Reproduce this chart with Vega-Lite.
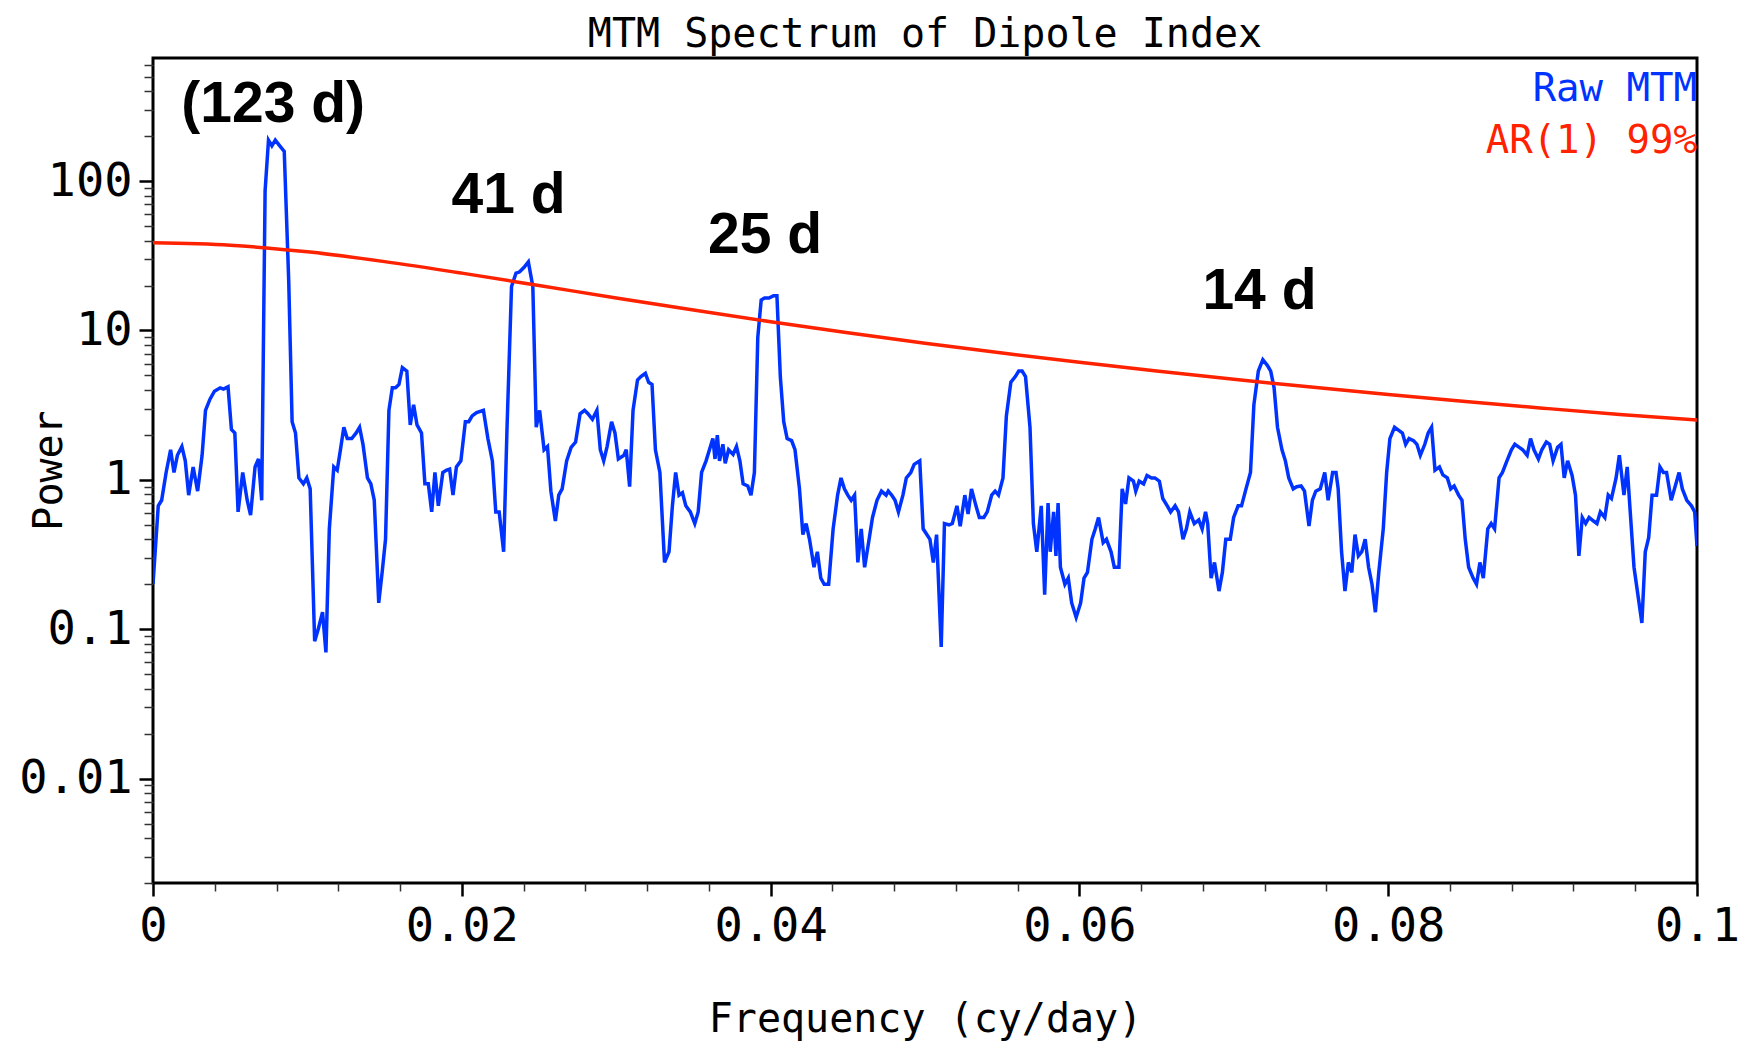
{
"$schema": "https://vega.github.io/schema/vega-lite/v6.json",
"width": 1544, "height": 825,
"autosize": {"type": "none"},
"padding": {"left": 153, "top": 58, "right": 67, "bottom": 160},
"background": "white",
"config": {"view": {"stroke": "black", "strokeWidth": 3}, "font": "DejaVu Sans Mono"},
"title": {"text": "MTM Spectrum of Dipole Index", "font": "DejaVu Sans Mono", "fontSize": 40, "fontWeight": "normal", "color": "black", "anchor": "middle", "baseline": "alphabetic", "offset": 13, "dy": 42},
"resolve": {"axis": {"x": "independent", "y": "independent"}},
"datasets": {
"ar1": [
{"f":0,"p":38.6},{"f":0.005,"p":37.2},{"f":0.01,"p":33.6},{"f":0.015,"p":28.9},{"f":0.02,"p":24.2},{"f":0.025,"p":20.0},{"f":0.03,"p":16.5},{"f":0.035,"p":13.7},{"f":0.04,"p":11.45},{"f":0.045,"p":9.65},{"f":0.05,"p":8.22},{"f":0.055,"p":7.06},{"f":0.06,"p":6.12},{"f":0.065,"p":5.35},{"f":0.07,"p":4.71},{"f":0.075,"p":4.18},{"f":0.08,"p":3.73},{"f":0.085,"p":3.35},{"f":0.09,"p":3.02},{"f":0.095,"p":2.74},{"f":0.1,"p":2.52}
],
"mtm": [
{"f":0,"p":0.2},{"f":0.00034,"p":0.67},{"f":0.00056,"p":0.73},{"f":0.00085,"p":1.12},{"f":0.00114,"p":1.59},{"f":0.00136,"p":1.12},{"f":0.00158,"p":1.46},{"f":0.00187,"p":1.67},{"f":0.00209,"p":1.34},{"f":0.00231,"p":0.79},{"f":0.0026,"p":1.22},{"f":0.00289,"p":0.84},{"f":0.00318,"p":1.46},{"f":0.0034,"p":2.92},{"f":0.00369,"p":3.47},{"f":0.00398,"p":3.92},{"f":0.00435,"p":4.13},{"f":0.00457,"p":4.05},{"f":0.00486,"p":4.2},{"f":0.00508,"p":2.17},{"f":0.0053,"p":2.06},{"f":0.00551,"p":0.61},{"f":0.00581,"p":1.12},{"f":0.0061,"p":0.73},{"f":0.00632,"p":0.58},{"f":0.00661,"p":1.22},{"f":0.00683,"p":1.38},{"f":0.00704,"p":0.73},{"f":0.00726,"p":86},{"f":0.00748,"p":188},{"f":0.0077,"p":172},{"f":0.00792,"p":188},{"f":0.00821,"p":172},{"f":0.0085,"p":158},{"f":0.00879,"p":21.5},{"f":0.00901,"p":2.45},{"f":0.00923,"p":2.06},{"f":0.00945,"p":1.03},{"f":0.00974,"p":0.94},{"f":0.00996,"p":1.03},{"f":0.01018,"p":0.87},{"f":0.01047,"p":0.083},{"f":0.01069,"p":0.099},{"f":0.01098,"p":0.13},{"f":0.0112,"p":0.07},{"f":0.01142,"p":0.47},{"f":0.01171,"p":1.22},{"f":0.01193,"p":1.16},{"f":0.01214,"p":1.59},{"f":0.01236,"p":2.25},{"f":0.01258,"p":1.89},{"f":0.01287,"p":1.89},{"f":0.01316,"p":2.06},{"f":0.01338,"p":2.25},{"f":0.0136,"p":1.73},{"f":0.01389,"p":1.03},{"f":0.01411,"p":0.94},{"f":0.01433,"p":0.73},{"f":0.01462,"p":0.15},{"f":0.01484,"p":0.24},{"f":0.01506,"p":0.4},{"f":0.01528,"p":2.92},{"f":0.0155,"p":4.13},{"f":0.01571,"p":4.13},{"f":0.01593,"p":4.35},{"f":0.01615,"p":5.64},{"f":0.01644,"p":5.35},{"f":0.01666,"p":2.33},{"f":0.01688,"p":3.18},{"f":0.0171,"p":2.33},{"f":0.01739,"p":2.06},{"f":0.01761,"p":0.94},{"f":0.01783,"p":0.94},{"f":0.01805,"p":0.61},{"f":0.01826,"p":1.12},{"f":0.01848,"p":0.67},{"f":0.01877,"p":1.12},{"f":0.01899,"p":1.16},{"f":0.01921,"p":1.18},{"f":0.01943,"p":0.79},{"f":0.01965,"p":1.22},{"f":0.01994,"p":1.34},{"f":0.02023,"p":2.45},{"f":0.02045,"p":2.45},{"f":0.02067,"p":2.68},{"f":0.02096,"p":2.82},{"f":0.0214,"p":2.92},{"f":0.02169,"p":1.89},{"f":0.02198,"p":1.34},{"f":0.0222,"p":0.61},{"f":0.02242,"p":0.61},{"f":0.02271,"p":0.33},{"f":0.02293,"p":2.25},{"f":0.02322,"p":19.7},{"f":0.02351,"p":24.2},{"f":0.02373,"p":24.6},{"f":0.02402,"p":26.4},{"f":0.02431,"p":28.8},{"f":0.0246,"p":19.7},{"f":0.02482,"p":2.25},{"f":0.02504,"p":2.92},{"f":0.02533,"p":1.59},{"f":0.02555,"p":1.67},{"f":0.02577,"p":0.84},{"f":0.02606,"p":0.53},{"f":0.02628,"p":0.79},{"f":0.0265,"p":0.87},{"f":0.02679,"p":1.34},{"f":0.02708,"p":1.65},{"f":0.02737,"p":1.79},{"f":0.02766,"p":2.77},{"f":0.02795,"p":2.92},{"f":0.02817,"p":2.77},{"f":0.02846,"p":2.54},{"f":0.02875,"p":2.92},{"f":0.02897,"p":1.59},{"f":0.02919,"p":1.34},{"f":0.02941,"p":1.67},{"f":0.0297,"p":2.45},{"f":0.02992,"p":2.06},{"f":0.03014,"p":1.38},{"f":0.0305,"p":1.46},{"f":0.03065,"p":1.59},{"f":0.03087,"p":0.9},{"f":0.03109,"p":2.92},{"f":0.03138,"p":4.66},{"f":0.0316,"p":4.91},{"f":0.03189,"p":5.17},{"f":0.0321,"p":4.5},{"f":0.03232,"p":4.35},{"f":0.03254,"p":1.59},{"f":0.03283,"p":1.12},{"f":0.03313,"p":0.28},{"f":0.03342,"p":0.33},{"f":0.03364,"p":0.67},{"f":0.03385,"p":1.12},{"f":0.03407,"p":0.79},{"f":0.03429,"p":0.82},{"f":0.03451,"p":0.67},{"f":0.0348,"p":0.61},{"f":0.03509,"p":0.51},{"f":0.03531,"p":0.61},{"f":0.03553,"p":1.12},{"f":0.03582,"p":1.34},{"f":0.03604,"p":1.59},{"f":0.03626,"p":1.89},{"f":0.0364,"p":1.38},{"f":0.03655,"p":1.99},{"f":0.03669,"p":1.34},{"f":0.03691,"p":1.73},{"f":0.03706,"p":1.29},{"f":0.03728,"p":1.59},{"f":0.03757,"p":1.48},{"f":0.03779,"p":1.67},{"f":0.03801,"p":1.34},{"f":0.03822,"p":0.94},{"f":0.03852,"p":0.91},{"f":0.03873,"p":0.79},{"f":0.03895,"p":1.12},{"f":0.03917,"p":9.0},{"f":0.03939,"p":16.0},{"f":0.03961,"p":16.5},{"f":0.0399,"p":16.5},{"f":0.04019,"p":17.1},{"f":0.04041,"p":17.1},{"f":0.04063,"p":4.91},{"f":0.04085,"p":2.45},{"f":0.04107,"p":1.89},{"f":0.04136,"p":1.83},{"f":0.04158,"p":1.59},{"f":0.04187,"p":0.87},{"f":0.04209,"p":0.43},{"f":0.0423,"p":0.51},{"f":0.04252,"p":0.4},{"f":0.04281,"p":0.26},{"f":0.04303,"p":0.33},{"f":0.04325,"p":0.22},{"f":0.04347,"p":0.2},{"f":0.04376,"p":0.2},{"f":0.04405,"p":0.47},{"f":0.04434,"p":0.79},{"f":0.04456,"p":1.03},{"f":0.04478,"p":0.87},{"f":0.045,"p":0.79},{"f":0.04522,"p":0.73},{"f":0.04544,"p":0.79},{"f":0.04565,"p":0.28},{"f":0.04587,"p":0.47},{"f":0.04609,"p":0.26},{"f":0.04638,"p":0.4},{"f":0.0466,"p":0.56},{"f":0.04689,"p":0.73},{"f":0.04718,"p":0.84},{"f":0.04748,"p":0.79},{"f":0.04762,"p":0.84},{"f":0.04784,"p":0.79},{"f":0.04806,"p":0.73},{"f":0.04828,"p":0.61},{"f":0.04857,"p":0.79},{"f":0.04879,"p":1.03},{"f":0.04908,"p":1.12},{"f":0.0493,"p":1.27},{"f":0.04966,"p":1.34},{"f":0.04988,"p":0.47},{"f":0.05032,"p":0.4},{"f":0.05054,"p":0.28},{"f":0.05075,"p":0.43},{"f":0.05105,"p":0.076},{"f":0.05126,"p":0.51},{"f":0.05156,"p":0.5},{"f":0.05177,"p":0.51},{"f":0.05207,"p":0.67},{"f":0.05228,"p":0.49},{"f":0.05258,"p":0.79},{"f":0.05279,"p":0.59},{"f":0.05301,"p":0.87},{"f":0.0533,"p":0.67},{"f":0.05352,"p":0.56},{"f":0.05381,"p":0.56},{"f":0.05403,"p":0.61},{"f":0.05432,"p":0.79},{"f":0.05454,"p":0.84},{"f":0.05476,"p":0.79},{"f":0.05505,"p":1.03},{"f":0.05527,"p":2.68},{"f":0.05556,"p":4.5},{"f":0.05585,"p":4.91},{"f":0.05607,"p":5.35},{"f":0.05629,"p":5.35},{"f":0.05651,"p":4.91},{"f":0.0568,"p":2.25},{"f":0.05702,"p":0.51},{"f":0.05724,"p":0.33},{"f":0.05753,"p":0.67},{"f":0.05775,"p":0.17},{"f":0.05797,"p":0.7},{"f":0.05811,"p":0.33},{"f":0.05833,"p":0.61},{"f":0.05848,"p":0.31},{"f":0.05862,"p":0.7},{"f":0.05877,"p":0.26},{"f":0.05906,"p":0.2},{"f":0.05928,"p":0.22},{"f":0.0595,"p":0.15},{"f":0.05979,"p":0.12},{"f":0.06008,"p":0.15},{"f":0.0603,"p":0.22},{"f":0.06052,"p":0.24},{"f":0.06081,"p":0.4},{"f":0.06103,"p":0.47},{"f":0.06124,"p":0.56},{"f":0.06154,"p":0.38},{"f":0.06175,"p":0.4},{"f":0.06205,"p":0.33},{"f":0.06226,"p":0.26},{"f":0.06256,"p":0.26},{"f":0.06277,"p":0.87},{"f":0.06299,"p":0.69},{"f":0.06321,"p":1.03},{"f":0.0635,"p":0.98},{"f":0.06365,"p":0.84},{"f":0.06387,"p":0.98},{"f":0.06416,"p":0.94},{"f":0.06438,"p":1.07},{"f":0.06467,"p":1.03},{"f":0.06489,"p":1.03},{"f":0.06518,"p":0.98},{"f":0.0654,"p":0.75},{"f":0.06569,"p":0.67},{"f":0.06591,"p":0.61},{"f":0.0662,"p":0.67},{"f":0.06642,"p":0.61},{"f":0.06671,"p":0.4},{"f":0.06693,"p":0.47},{"f":0.06715,"p":0.61},{"f":0.06744,"p":0.51},{"f":0.06773,"p":0.54},{"f":0.06795,"p":0.47},{"f":0.06817,"p":0.61},{"f":0.06831,"p":0.51},{"f":0.06853,"p":0.22},{"f":0.06875,"p":0.28},{"f":0.06904,"p":0.18},{"f":0.06926,"p":0.24},{"f":0.06948,"p":0.4},{"f":0.06977,"p":0.4},{"f":0.06999,"p":0.56},{"f":0.07028,"p":0.67},{"f":0.0705,"p":0.67},{"f":0.07079,"p":0.87},{"f":0.07108,"p":1.12},{"f":0.0713,"p":3.18},{"f":0.07159,"p":5.35},{"f":0.07188,"p":6.37},{"f":0.07217,"p":5.84},{"f":0.07239,"p":5.35},{"f":0.07261,"p":4.13},{"f":0.07283,"p":2.25},{"f":0.07312,"p":1.59},{"f":0.07334,"p":1.34},{"f":0.07356,"p":1.03},{"f":0.07385,"p":0.87},{"f":0.07407,"p":0.9},{"f":0.07436,"p":0.91},{"f":0.07458,"p":0.84},{"f":0.07487,"p":0.49},{"f":0.07509,"p":0.73},{"f":0.07531,"p":0.84},{"f":0.0756,"p":0.87},{"f":0.07589,"p":1.12},{"f":0.07611,"p":0.73},{"f":0.0764,"p":1.12},{"f":0.07662,"p":1.12},{"f":0.07676,"p":0.87},{"f":0.07698,"p":0.33},{"f":0.0772,"p":0.18},{"f":0.07742,"p":0.28},{"f":0.07764,"p":0.24},{"f":0.07785,"p":0.43},{"f":0.07807,"p":0.31},{"f":0.07829,"p":0.33},{"f":0.07851,"p":0.4},{"f":0.07873,"p":0.26},{"f":0.07895,"p":0.2},{"f":0.07917,"p":0.13},{"f":0.07939,"p":0.24},{"f":0.07968,"p":0.47},{"f":0.0799,"p":1.12},{"f":0.08011,"p":1.89},{"f":0.08041,"p":2.25},{"f":0.08062,"p":2.17},{"f":0.08092,"p":2.06},{"f":0.08113,"p":1.73},{"f":0.08135,"p":1.89},{"f":0.08164,"p":1.83},{"f":0.08186,"p":1.73},{"f":0.08208,"p":1.46},{"f":0.08237,"p":1.73},{"f":0.08259,"p":2.06},{"f":0.08281,"p":2.25},{"f":0.08303,"p":1.16},{"f":0.08332,"p":1.22},{"f":0.08354,"p":1.08},{"f":0.08383,"p":1.03},{"f":0.08405,"p":0.87},{"f":0.08427,"p":0.91},{"f":0.08456,"p":0.79},{"f":0.08478,"p":0.73},{"f":0.08499,"p":0.4},{"f":0.08521,"p":0.26},{"f":0.0855,"p":0.22},{"f":0.08572,"p":0.2},{"f":0.08594,"p":0.28},{"f":0.08616,"p":0.22},{"f":0.08645,"p":0.47},{"f":0.08667,"p":0.51},{"f":0.08689,"p":0.47},{"f":0.08718,"p":1.03},{"f":0.0874,"p":1.12},{"f":0.08769,"p":1.34},{"f":0.08798,"p":1.59},{"f":0.0882,"p":1.73},{"f":0.08849,"p":1.65},{"f":0.08871,"p":1.59},{"f":0.089,"p":1.46},{"f":0.08922,"p":1.89},{"f":0.08944,"p":1.59},{"f":0.08973,"p":1.38},{"f":0.08995,"p":1.59},{"f":0.09024,"p":1.79},{"f":0.09046,"p":1.73},{"f":0.09068,"p":1.34},{"f":0.09097,"p":1.65},{"f":0.09119,"p":1.73},{"f":0.0914,"p":1.03},{"f":0.09162,"p":1.34},{"f":0.09191,"p":1.07},{"f":0.09213,"p":0.79},{"f":0.09235,"p":0.31},{"f":0.09257,"p":0.56},{"f":0.09279,"p":0.51},{"f":0.09301,"p":0.56},{"f":0.0933,"p":0.53},{"f":0.09352,"p":0.51},{"f":0.09374,"p":0.61},{"f":0.09403,"p":0.56},{"f":0.09425,"p":0.79},{"f":0.09446,"p":0.75},{"f":0.09476,"p":1.03},{"f":0.09497,"p":1.46},{"f":0.09527,"p":0.79},{"f":0.09548,"p":1.22},{"f":0.0957,"p":0.56},{"f":0.09592,"p":0.26},{"f":0.09643,"p":0.11},{"f":0.09665,"p":0.33},{"f":0.09687,"p":0.41},{"f":0.09709,"p":0.79},{"f":0.09738,"p":0.79},{"f":0.0976,"p":1.22},{"f":0.09782,"p":1.12},{"f":0.09803,"p":1.12},{"f":0.09833,"p":0.73},{"f":0.09854,"p":0.87},{"f":0.09884,"p":1.12},{"f":0.09905,"p":0.87},{"f":0.09934,"p":0.73},{"f":0.09964,"p":0.67},{"f":0.09985,"p":0.61},{"f":0.1,"p":0.36}
],
"ann": [
{"f":0.00778,"p":250,"label":"(123 d)"},{"f":0.02303,"p":61.4,"label":"41 d"},{"f":0.03964,"p":33.1,"label":"25 d"},{"f":0.07166,"p":14.0,"label":"14 d"}
],
"leg": [
{"f":0.1,"p":345,"label":"Raw MTM"},{"f":0.1,"p":155,"label":"AR(1) 99%"}
]
},
"layer": [
{"data": {"name": "mtm"},
 "mark": {"type": "line", "color": "#0033ff", "strokeWidth": 3.5, "clip": true},
 "encoding": {
  "x": {"field": "f", "type": "quantitative", "scale": {"domain": [0, 0.1], "nice": false, "zero": false},
   "axis": {"orient": "bottom", "values": [0, 0.02, 0.04, 0.06, 0.08, 0.1], "format": "~g",
    "labelFlush": false, "labelOverlap": false, "grid": false, "domain": false,
    "tickSize": 13, "tickWidth": 2.5, "tickColor": "black",
    "labelFont": "DejaVu Sans Mono", "labelFontSize": 47, "labelColor": "black", "labelPadding": 7,
    "title": "Frequency (cy/day)", "titleFont": "DejaVu Sans Mono", "titleFontSize": 40, "titleFontWeight": "normal", "titleColor": "black",
    "titleX": 772, "titleY": 148, "titleBaseline": "alphabetic", "titleAlign": "center"}},
  "y": {"field": "p", "type": "quantitative", "scale": {"type": "log", "domain": [0.002, 667], "nice": false},
   "axis": {"orient": "left", "values": [0.01, 0.1, 1, 10, 100], "format": "~g",
    "labelFlush": false, "labelOverlap": false, "grid": false, "domain": false,
    "tickSize": 14, "tickWidth": 2.5, "tickColor": "black",
    "labelFont": "DejaVu Sans Mono", "labelFontSize": 47, "labelColor": "black", "labelPadding": 7,
    "title": "Power", "titleFont": "DejaVu Sans Mono", "titleFontSize": 40, "titleFontWeight": "normal", "titleColor": "black",
    "titleX": -92, "titleY": 412, "titleAngle": 270, "titleBaseline": "alphabetic", "titleAlign": "center"}}
 }},
{"data": {"name": "ar1"},
 "mark": {"type": "line", "color": "#ff2200", "strokeWidth": 3.5, "interpolate": "monotone", "clip": true},
 "encoding": {
  "x": {"field": "f", "type": "quantitative",
   "axis": {"orient": "bottom", "values": [0.004,0.008,0.012,0.016,0.024,0.028,0.032,0.036,0.044,0.048,0.052,0.056,0.064,0.068,0.072,0.076,0.084,0.088,0.092,0.096],
    "labels": false, "title": null, "grid": false, "domain": false, "tickSize": 8, "tickWidth": 1.5, "tickColor": "#333333"}},
  "y": {"field": "p", "type": "quantitative",
   "axis": {"orient": "left", "values": [0.002,0.003,0.004,0.005,0.006,0.007,0.008,0.009,0.02,0.03,0.04,0.05,0.06,0.07,0.08,0.09,0.2,0.3,0.4,0.5,0.6,0.7,0.8,0.9,2,3,4,5,6,7,8,9,20,30,40,50,60,70,80,90,200,300,400,500,600],
    "labels": false, "title": null, "grid": false, "domain": false, "tickSize": 9, "tickWidth": 1.5, "tickColor": "#333333"}}
 }},
{"data": {"name": "ann"},
 "mark": {"type": "text", "font": "Liberation Sans", "fontWeight": "bold", "fontSize": 57, "baseline": "alphabetic", "align": "center", "color": "black"},
 "encoding": {
  "x": {"field": "f", "type": "quantitative", "axis": null},
  "y": {"field": "p", "type": "quantitative", "axis": null},
  "text": {"field": "label"}
 }},
{"data": {"name": "leg"},
 "mark": {"type": "text", "font": "DejaVu Sans Mono", "fontSize": 39, "baseline": "alphabetic", "align": "right"},
 "encoding": {
  "x": {"field": "f", "type": "quantitative", "axis": null},
  "y": {"field": "p", "type": "quantitative", "axis": null},
  "text": {"field": "label"},
  "color": {"field": "label", "type": "nominal", "scale": {"domain": ["Raw MTM", "AR(1) 99%"], "range": ["#0033ff", "#ff2200"]}, "legend": null}
 }}
]
}
